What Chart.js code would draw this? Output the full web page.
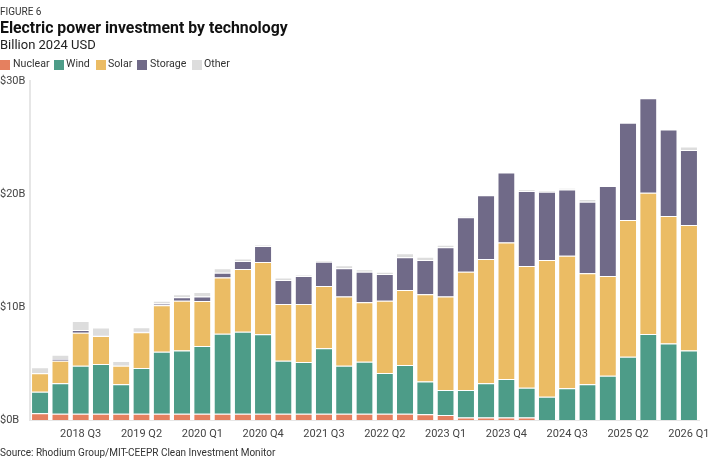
<!DOCTYPE html>
<html>
<head>
<meta charset="utf-8">
<script src="https://cdn.jsdelivr.net/npm/chart.js@4/dist/chart.umd.min.js"></script>
<style>
  html, body { margin:0; padding:0; background:#fff; }
  #wrap { position:relative; width:720px; height:459px; overflow:hidden; font-family:Roboto, "Liberation Sans", sans-serif; }
  #c { position:absolute; left:0; top:0; }
  .t { position:absolute; left:0; white-space:nowrap; line-height:1.2; }
  #fig { top:6px; font-size:10px; color:#333; }
  #title { top:19px; font-size:15.8px; font-weight:700; color:#111; }
  #sub { top:37px; font-size:13px; color:#222; }
  #src { top:447px; font-size:10px; color:#333; }
  .lg { position:absolute; top:58px; font-size:10.6px; color:#333; line-height:1.2; white-space:nowrap; }
  .sw { position:absolute; top:60px; width:10px; height:10px; }
</style>
</head>
<body>
<div id="wrap">
  <canvas id="c" width="720" height="459"></canvas>
  <div class="t" id="fig">FIGURE 6</div>
  <div class="t" id="title">Electric power investment by technology</div>
  <div class="t" id="sub">Billion 2024 USD</div>
  <div id="legend"></div>
  <div class="t" id="src">Source: Rhodium Group/MIT-CEEPR Clean Investment Monitor</div>
</div>
<script>
const quarters = ["2018 Q1","2018 Q2","2018 Q3","2018 Q4","2019 Q1","2019 Q2","2019 Q3","2019 Q4",
  "2020 Q1","2020 Q2","2020 Q3","2020 Q4","2021 Q1","2021 Q2","2021 Q3","2021 Q4",
  "2022 Q1","2022 Q2","2022 Q3","2022 Q4","2023 Q1","2023 Q2","2023 Q3","2023 Q4",
  "2024 Q1","2024 Q2","2024 Q3","2024 Q4","2025 Q1","2025 Q2","2025 Q3","2025 Q4","2026 Q1"];
const nuclear = [0.6,0.55,0.55,0.55,0.55,0.55,0.55,0.55,0.55,0.55,0.55,0.55,0.55,0.55,0.55,0.55,0.55,0.55,0.55,0.5,0.45,0.22,0.22,0.22,0.22,0,0,0,0,0,0,0,0];
const wind = [1.9,2.7,4.25,4.41,2.61,4.05,5.5,5.59,6.0,7.09,7.27,7.03,4.7,4.58,5.79,4.25,4.61,3.61,4.32,2.9,2.2,2.43,3.03,3.41,2.64,2.06,2.8,3.16,3.92,5.6,7.61,6.78,6.14];
const solar = [1.63,2.0,2.93,2.47,1.64,3.16,4.1,4.42,3.98,4.96,5.54,6.4,5.02,5.14,5.52,6.12,5.25,6.4,6.63,7.72,8.27,10.48,11.0,12.07,10.77,12.1,11.74,9.82,8.82,12.1,12.5,11.27,11.12];
const storage = [0,0.15,0.23,0.05,0,0.1,0.15,0.3,0.39,0.44,0.71,1.42,2.12,2.47,2.14,2.5,2.72,2.36,2.9,3.04,4.36,4.81,5.65,6.2,6.64,6.04,5.86,6.34,7.96,8.6,8.36,7.65,6.64];
const other = [0.53,0.38,0.8,0.7,0.42,0.35,0.26,0.26,0.41,0.38,0.23,0.1,0.21,0.1,0.16,0.27,0.21,0.21,0.35,0.29,0.22,0.1,0,0,0.13,0.15,0.15,0.24,0,0,0,0,0.3];
const yTicks = [0,10,20,30];

const seriesNames = ["Nuclear","Wind","Solar","Storage","Other"];
const seriesData = [nuclear, wind, solar, storage, other];
const seriesColors = ["#e5805f","#4d9c88","#ebbc64","#706a88","#dddddd"];

// HTML legend
const legendX = [[0,13],[54,66],[96,108],[137,150],[192,204]];
const lg = document.getElementById('legend');
seriesNames.forEach((n,i)=>{
  const s = document.createElement('div'); s.className='sw'; s.style.left=legendX[i][0]+'px'; s.style.background=seriesColors[i]; lg.appendChild(s);
  const t = document.createElement('div'); t.className='lg'; t.style.left=legendX[i][1]+'px'; t.textContent=n; lg.appendChild(t);
});

new Chart(document.getElementById('c'), {
  type:'bar',
  data:{
    labels: quarters,
    datasets: seriesNames.map((n,i)=>({
      label:n, data:seriesData[i], backgroundColor:seriesColors[i],
      borderColor:'#ffffff', borderWidth:{top:1,left:0,right:0,bottom:0}, borderSkipped:false,
      categoryPercentage:0.8, barPercentage:1.0
    }))
  },
  options:{
    responsive:false, animation:false,
    layout:{padding:{top:81,right:21,bottom:14,left:0}},
    plugins:{legend:{display:false}, tooltip:{enabled:false}},
    scales:{
      x:{stacked:true,
        grid:{display:false, drawTicks:false},
        border:{display:true, color:'#e6e6e6', width:1},
        ticks:{autoSkip:false, maxRotation:0, padding:8, color:'#444',
          font:{family:'Roboto', size:11},
          callback:(v,i)=> (i%3===2 ? quarters[i] : '')},
        afterFit:s=>{ s.height = 25; }
      },
      y:{stacked:true, min:0, max:30,
        afterBuildTicks:s=>{ s.ticks = yTicks.map(v=>({value:v})); },
        grid:{display:false, drawTicks:false},
        border:{display:true, color:'#e6e6e6', width:2},
        ticks:{padding:0, crossAlign:'far', color:'#444', font:{family:'Roboto', size:11},
          callback:v=>'$'+v+'B'},
        afterFit:s=>{ s.width = 30; }
      }
    }
  }
});
</script>
</body>
</html>
